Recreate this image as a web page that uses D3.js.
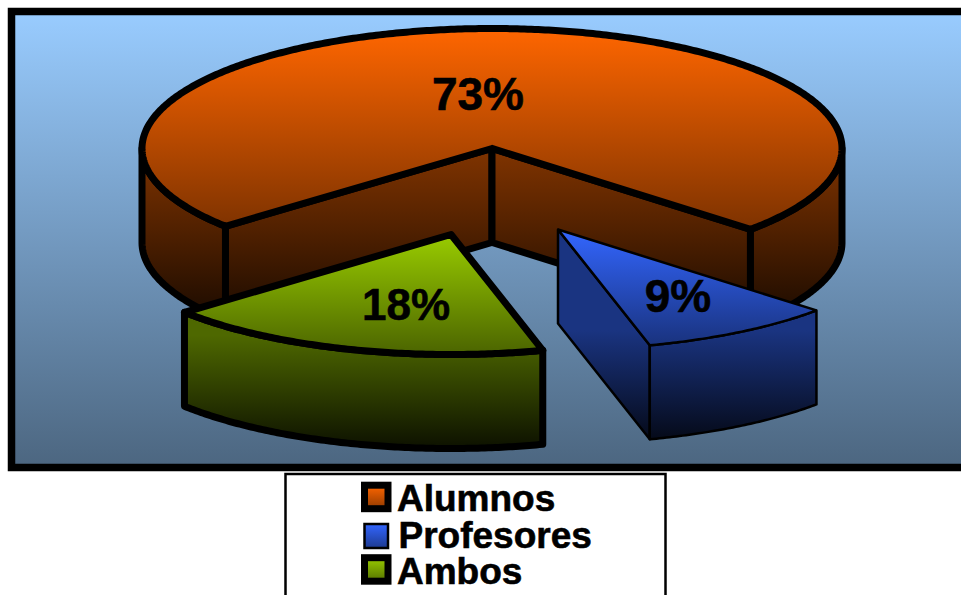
<!DOCTYPE html>
<html>
<head>
<meta charset="utf-8">
<script src="https://cdn.jsdelivr.net/npm/d3@7"></script>
<style>
html,body{margin:0;padding:0;background:#fff;overflow:hidden}
svg{display:block}
text{font-family:"Liberation Sans",Arial,sans-serif;font-weight:bold;fill:#000;stroke:#000;stroke-width:.6px}
</style>
</head>
<body>
<svg id="chart" width="961" height="595"></svg>
<script>
const categories = ["Alumnos", "Profesores", "Ambos"];
const shares = [73, 9, 18];
const colors = ["#FF6600", "#3366FF", "#99CC00"];

const W = 961, H = 595;
const center = {x: 492, y: 148.5}, rx = 350, ry = 120, depth = 94;
const startDeg = 229.6;
const explode = [[0, 0], [66, 81], [-41, 86]];
const strokeW = [7, 2.5, 7];
const topJoin = ["miter", "miter", "round"];
const labelPos = [[478, 110], [678, 312], [406, 320]];
const labelSize = [46, 46, 44];
const drawOrder = [0, 2, 1];

const svg = d3.select("#chart");
const defs = svg.append("defs");

function vGrad(id, stops, y1, y2) {
  const g = defs.append("linearGradient").attr("id", id);
  if (y1 === undefined) g.attr("x1", 0).attr("x2", 0).attr("y1", 0).attr("y2", 1);
  else g.attr("gradientUnits", "userSpaceOnUse").attr("x1", 0).attr("x2", 0).attr("y1", y1).attr("y2", y2);
  stops.forEach((c, i) => g.append("stop").attr("offset", i / (stops.length - 1)).attr("stop-color", c));
}

// panel
vGrad("panelGrad", ["#99CCFF", "#4C6680"]);
svg.append("rect").attr("x", 11.5).attr("y", 11.5).attr("width", W).attr("height", 456)
  .attr("fill", "url(#panelGrad)").attr("stroke", "#000").attr("stroke-width", 7.5);

// pie geometry
const pie = d3.pie().sort(null).value(d => d)
  .startAngle(startDeg * Math.PI / 180)
  .endAngle((startDeg + 360) * Math.PI / 180);
const arcs = pie(shares);

const xS = d3.scaleLinear().domain([-1, 1]).range([center.x - rx, center.x + rx]);
const yS = d3.scaleLinear().domain([-1, 1]).range([center.y - ry, center.y + ry]);
const line = d3.line().x(d => d[0]).y(d => d[1]);

function rimPoints(a0, a1, dx, dy) {
  const n = Math.max(2, Math.ceil((a1 - a0) / 0.01));
  return d3.range(n + 1).map(i => {
    const a = a0 + (a1 - a0) * i / n;
    return [xS(Math.sin(a)) + dx, yS(-Math.cos(a)) + dy];
  });
}

arcs.forEach((arc, i) => {
  const [dx, dy] = explode[arc.index];
  const c = d3.color(colors[arc.index]);
  vGrad("top" + i, [c.formatHex(), c.darker(2).formatHex()]);
  const edgeY = [arc.startAngle, arc.endAngle].map(a => yS(-Math.cos(a)) + dy);
  const y1 = i === 0 ? center.y + dy : d3.max(edgeY) - 15;
  vGrad("side" + i, [c.darker(1.9).formatHex(), c.darker(6.5).formatHex()], y1, d3.max(edgeY) + depth);
});

function sliceGroup(arc) {
  const i = arc.index;
  const [dx, dy] = explode[i];
  const g = svg.append("g").attr("class", "slice")
    .attr("stroke", "#000").attr("stroke-width", strokeW[i])
    .attr("stroke-linejoin", "round");
  const apex = [center.x + dx, center.y + dy];
  const sideFill = `url(#side${i})`;

  // cut faces visible from the viewer
  const cut = a => {
    const p = rimPoints(a, a, dx, dy)[0];
    g.append("path").attr("fill", sideFill).attr("d", line([
      apex, p, [p[0], p[1] + depth], [apex[0], apex[1] + depth]
    ]) + "Z");
  };
  if (Math.sin(arc.startAngle) < 0) cut(arc.startAngle);
  if (Math.sin(arc.endAngle) > 0) cut(arc.endAngle);

  // outer wall, front half only (90deg to 270deg, also one turn on)
  [0, 2 * Math.PI].forEach(turn => {
    const a0 = Math.max(arc.startAngle, Math.PI / 2 + turn);
    const a1 = Math.min(arc.endAngle, 1.5 * Math.PI + turn);
    if (a1 <= a0) return;
    const upper = rimPoints(a0, a1, dx, dy);
    const lower = rimPoints(a0, a1, dx, dy + depth).reverse();
    g.append("path").attr("fill", sideFill).attr("d", line(upper.concat(lower)) + "Z");
  });

  // top face
  const rim = rimPoints(arc.startAngle, arc.endAngle, dx, dy);
  g.append("path").attr("fill", `url(#top${i})`)
    .attr("stroke-linejoin", topJoin[i]).attr("stroke-miterlimit", 3)
    .attr("d", line([apex].concat(rim)) + "Z");
}
drawOrder.forEach(k => sliceGroup(arcs[k]));

// percent labels
const labelText = shares.map(v => v + "%");
svg.selectAll("text.pct").data(labelText).join("text").attr("class", "pct")
  .attr("x", (d, i) => labelPos[i][0]).attr("y", (d, i) => labelPos[i][1])
  .attr("text-anchor", "middle").attr("font-size", (d, i) => labelSize[i]).text(d => d);

// legend
svg.append("rect").attr("x", 285.5).attr("y", 474).attr("width", 380).attr("height", 140)
  .attr("fill", "#fff").attr("stroke", "#000").attr("stroke-width", 2.5);
const legendRows = [
  {box: [364.5, 485.2, 23.5, 23.5], sw: 7, tx: 397, ty: 511},
  {box: [364.5, 524, 23.5, 24], sw: 2.5, tx: 398.5, ty: 548},
  {box: [364.5, 557.7, 23.5, 23.5], sw: 7, tx: 397, ty: 584}
];
categories.forEach((name, i) => {
  const r = legendRows[i], c = d3.color(colors[i]);
  vGrad("leg" + i, [c.formatHex(), c.darker(1.6).formatHex()]);
  svg.append("rect").attr("x", r.box[0]).attr("y", r.box[1]).attr("width", r.box[2]).attr("height", r.box[3])
    .attr("fill", `url(#leg${i})`).attr("stroke", "#000").attr("stroke-width", r.sw);
  svg.append("text").attr("class", "leg").attr("x", r.tx).attr("y", r.ty).attr("font-size", 37).text(name);
});
</script>
</body>
</html>
